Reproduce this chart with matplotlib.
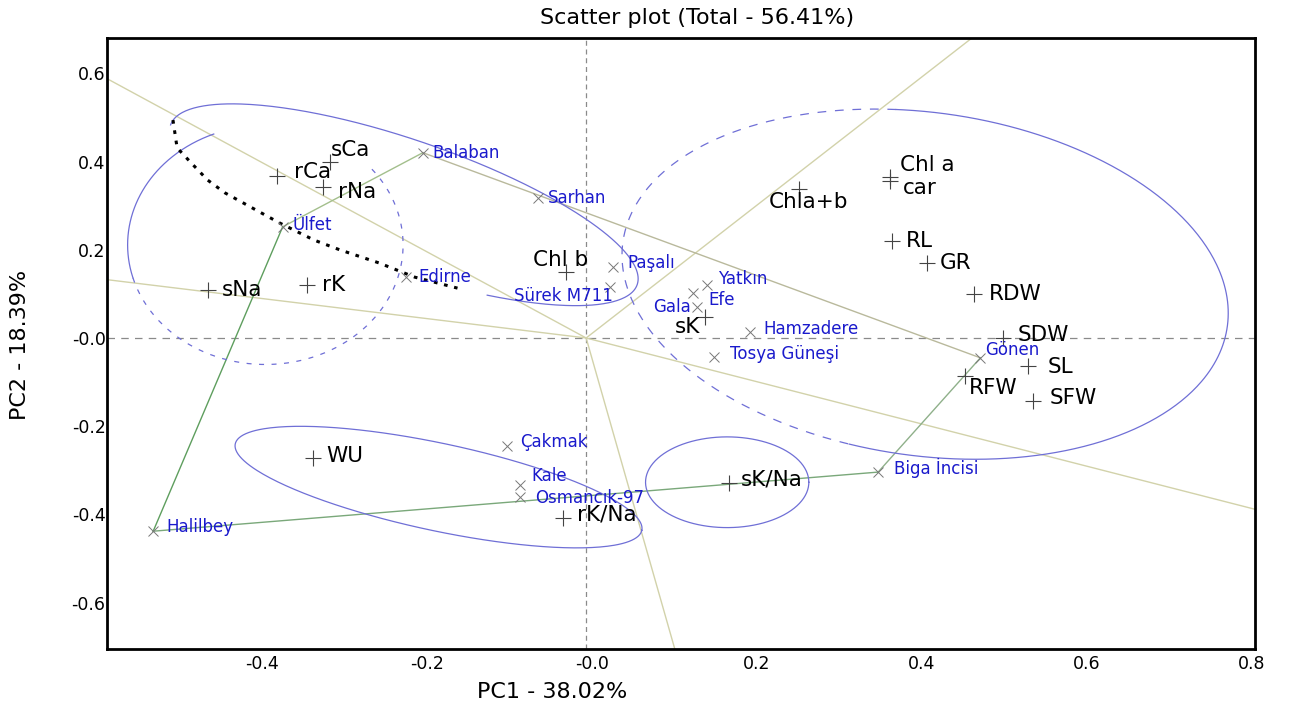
import numpy as np
import matplotlib
matplotlib.use("Agg")
import matplotlib.pyplot as plt
from matplotlib.transforms import ScaledTranslation

# ---------------- data ----------------
var_names = ["sCa", "rCa", "rNa", "sNa", "rK", "Chl b", "Chla+b", "Chl a", "car",
             "RL", "GR", "RDW", "SDW", "SL", "RFW", "SFW", "sK", "WU", "sK/Na", "rK/Na"]
var_pc1 = [-0.310, -0.375, -0.319, -0.459, -0.338, -0.025, 0.258, 0.368, 0.368,
           0.371, 0.413, 0.470, 0.505, 0.536, 0.459, 0.542, 0.144, -0.331, 0.173, -0.028]
var_pc2 = [0.399, 0.367, 0.342, 0.109, 0.120, 0.150, 0.338, 0.365, 0.356,
           0.220, 0.170, 0.100, 0.000, -0.063, -0.086, -0.143, 0.048, -0.272, -0.329, -0.408]

gen_names = ["Balaban", "Sarhan", "Ülfet", "Edirne", "Sürek M711", "Paşalı", "Gala", "Efe",
             "Yatkın", "Hamzadere", "Tosya Güneşi", "Gönen", "Biga İncisi", "Çakmak", "Kale",
             "Osmancık-97", "Halilbey"]
gen_pc1 = [-0.198, -0.058, -0.368, -0.219, 0.029, 0.033, 0.135, 0.130,
           0.147, 0.199, 0.155, 0.478, 0.354, -0.096, -0.080, -0.080, -0.525]
gen_pc2 = [0.420, 0.317, 0.252, 0.138, 0.116, 0.161, 0.070, 0.102,
           0.120, 0.014, -0.043, -0.045, -0.304, -0.245, -0.333, -0.361, -0.438]

polygon_order = ["Halilbey", "Ülfet", "Balaban", "Gönen", "Biga İncisi"]

trace_pc1 = [-0.501, -0.496, -0.479, -0.459, -0.438, -0.407, -0.372, -0.330, -0.299, -0.251, -0.208, -0.156]
trace_pc2 = [0.494, 0.431, 0.397, 0.358, 0.329, 0.297, 0.261, 0.222, 0.200, 0.170, 0.138, 0.113]

x_ticks = [-0.4, -0.2, 0.0, 0.2, 0.4, 0.6, 0.8]
x_tick_labels = ["-0.4", "-0.2", "-0.0", "0.2", "0.4", "0.6", "0.8"]
y_ticks = [-0.6, -0.4, -0.2, 0.0, 0.2, 0.4, 0.6]
y_tick_labels = ["-0.6", "-0.4", "-0.2", "-0.0", "0.2", "0.4", "0.6"]

title = "Scatter plot (Total - 56.41%)"
x_label = "PC1 - 38.02%"
y_label = "PC2 - 18.39%"

# ---------------- styles ----------------
# label offsets in pixels (dx, dy up, ha)
var_offsets = {
    "sCa": (0, 12, "left"), "rCa": (17, 4, "left"), "rNa": (15, -5, "left"),
    "sNa": (14, 0, "left"), "rK": (15, 0, "left"), "Chl b": (-5, 12, "center"),
    "Chla+b": (10, -13, "center"), "Chl a": (10, 12, "left"), "car": (13, -7, "left"),
    "RL": (14, 0, "left"), "GR": (13, 0, "left"), "RDW": (15, 0, "left"),
    "SDW": (15, 3, "left"), "SL": (19, -1, "left"), "RFW": (4, -12, "left"),
    "SFW": (16, 3, "left"), "sK": (-5, -10, "right"), "WU": (13, 2, "left"),
    "sK/Na": (12, 4, "left"), "rK/Na": (14, 3, "left"),
}
gen_offsets = {
    "Balaban": (10, 0, "left"), "Sarhan": (10, 0, "left"), "Ülfet": (10, 2, "left"),
    "Edirne": (13, 0, "left"), "Sürek M711": (3, -9, "right"), "Paşalı": (14, 4, "left"),
    "Gala": (-7, 0, "right"), "Efe": (15, -7, "left"), "Yatkın": (11, 6, "left"),
    "Hamzadere": (13, 3, "left"), "Tosya Güneşi": (16, 3, "left"), "Gönen": (5, 8, "left"),
    "Biga İncisi": (16, 4, "left"), "Çakmak": (13, 4, "left"), "Kale": (11, 9, "left"),
    "Osmancık-97": (15, -1, "left"), "Halilbey": (13, 4, "left"),
}
side_colors = ["#5e9e5e", "#a3bf8c", "#b9b99c", "#8fb08a", "#7aa87a"]
ray_color = "#d2d2aa"
ell_color = "#6f6fd6"

# contour ellipses: center (data), semi-axes (x-data units, screen-scaled), angle (deg),
# list of (theta_start, theta_end, linestyle)
contours = [
    ((-0.389, 0.211), 0.167, 0.145, 0, [(112, 196, "-"), (196, 400, (0, (4, 6)))]),
    ((-0.221, 0.302), 0.299, 0.079, -18.9, [(-64, 180, "-")]),
    ((0.411, 0.122), 0.370, 0.208, -8, [(-100, 100, "-"), (100, 260, (0, (7, 7)))]),
    ((-0.179, -0.338), 0.252, 0.053, -12, [(0, 360, "-")]),
    ((0.171, -0.327), 0.099, 0.055, 0, [(0, 360, "-")]),
]

plt.rcParams['font.family'] = ['DejaVu Sans']

W, H, DPI = 1289, 710, 100
fig = plt.figure(figsize=(W / DPI, H / DPI), dpi=DPI)
ax_l, ax_r, ax_t, ax_b = 107, 1255, 38, 649
ax = fig.add_axes([ax_l / W, (H - ax_b) / H, (ax_r - ax_l) / W, (ax_b - ax_t) / H])
xlim = (-0.581, 0.811)
ylim = (-0.705, 0.680)
ax.set_xlim(*xlim)
ax.set_ylim(*ylim)

# aspect factor: y pixels per unit divided by x pixels per unit
k = ((ax_b - ax_t) / (ylim[1] - ylim[0])) / ((ax_r - ax_l) / (xlim[1] - xlim[0]))

# zero lines
ax.axhline(0, color="#8a8a8a", lw=0.9, ls=(0, (6, 5)), zorder=1)
ax.axvline(0, color="#8a8a8a", lw=0.9, ls=(0, (4, 3)), zorder=1)

# polygon and rays
gpos = {n: (x, y) for n, x, y in zip(gen_names, gen_pc1, gen_pc2)}
nv = len(polygon_order)
for i in range(nv):
    p1 = np.array(gpos[polygon_order[i]])
    p2 = np.array(gpos[polygon_order[(i + 1) % nv]])
    ax.plot([p1[0], p2[0]], [p1[1], p2[1]], color=side_colors[i], lw=1.0, zorder=2)
    d = p2 - p1
    n = np.array([-d[1], d[0]])
    if np.dot(n, p1) < 0:
        n = -n
    n = n / np.linalg.norm(n)
    ax.plot([0, n[0] * 5], [0, n[1] * 5], color=ray_color, lw=1.0, zorder=1.5)

# contours
for (cx, cy), a, b, ang, segs in contours:
    phi = np.deg2rad(ang)
    for t0, t1, ls in segs:
        t = np.deg2rad(np.linspace(t0, t1, 300))
        u = a * np.cos(t) * np.cos(phi) - b * np.sin(t) * np.sin(phi)
        v = a * np.cos(t) * np.sin(phi) + b * np.sin(t) * np.cos(phi)
        ax.plot(cx + u, cy + v / k, color=ell_color, lw=0.9, ls=ls, zorder=2.5)

# black dotted trace
ax.plot(trace_pc1, trace_pc2, color="black", lw=2.2, ls=(0, (1.2, 2.2)), zorder=3)

# markers
ax.plot(var_pc1, var_pc2, ls="none", marker="+", ms=11, mew=0.8, color="#444444", zorder=4)
ax.plot(gen_pc1, gen_pc2, ls="none", marker="x", ms=7, mew=0.7, color="#777777", zorder=4)

px2pt = 72.0 / DPI
for n, x, y in zip(var_names, var_pc1, var_pc2):
    dx, dy, ha = var_offsets[n]
    ax.annotate(n, (x, y), xytext=(dx * px2pt, dy * px2pt), textcoords="offset points",
                ha=ha, va="center", fontsize=15.5, color="black", zorder=5)
for n, x, y in zip(gen_names, gen_pc1, gen_pc2):
    dx, dy, ha = gen_offsets[n]
    ax.annotate(n, (x, y), xytext=(dx * px2pt, dy * px2pt), textcoords="offset points",
                ha=ha, va="center", fontsize=12, color="#1a1acc", zorder=5)

# axes styling
ax.set_xticks(x_ticks)
ax.set_xticklabels(x_tick_labels)
ax.set_yticks(y_ticks)
ax.set_yticklabels(y_tick_labels)
ax.tick_params(axis="both", length=0, labelsize=12.5, colors="black")
ax.tick_params(axis="x", pad=4)
ax.tick_params(axis="y", pad=1)
for lab in ax.get_xticklabels():
    lab.set_transform(lab.get_transform() + ScaledTranslation(6 / DPI, 0, fig.dpi_scale_trans))
for s in ax.spines.values():
    s.set_linewidth(2.0)
    s.set_color("black")

fig.text(697 / W, 1 - 18 / H, title, ha="center", va="center", fontsize=16)
fig.text(552 / W, (H - 692) / H, x_label, ha="center", va="center", fontsize=16)
fig.text(20 / W, 1 - 345 / H, y_label, ha="center", va="center", fontsize=16, rotation=90)

fig.savefig("out.png", dpi=DPI)
